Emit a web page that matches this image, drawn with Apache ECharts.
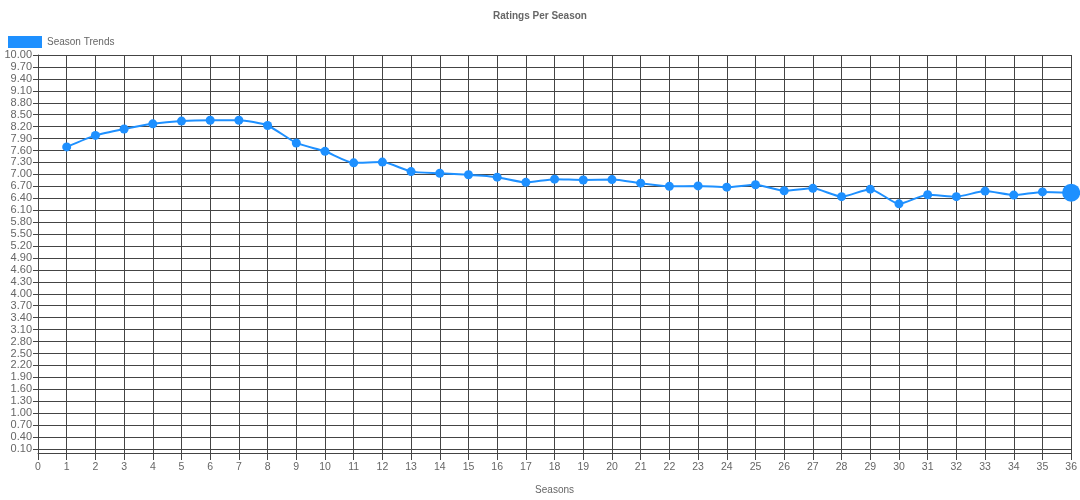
<!DOCTYPE html>
<html>
<head>
<meta charset="utf-8">
<script src="https://cdn.jsdelivr.net/npm/echarts@6/dist/echarts.min.js"></script>
<style>html,body{margin:0;padding:0;background:#fff;}#c{width:1080px;height:500px;}</style>
</head>
<body>
<div id="c"></div>
<script>
const seasons = [1,2,3,4,5,6,7,8,9,10,11,12,13,14,15,16,17,18,19,20,21,22,23,24,25,26,27,28,29,30,31,32,33,34,35,36];
const ratings = [7.69,7.98,8.14,8.27,8.34,8.36,8.36,8.23,7.79,7.58,7.29,7.31,7.07,7.03,6.99,6.93,6.80,6.88,6.86,6.87,6.78,6.70,6.71,6.68,6.74,6.59,6.65,6.44,6.63,6.26,6.49,6.44,6.58,6.48,6.56,6.54];
const yTicks = [];
for (let k = 0; k <= 33; k++) yTicks.push(+(0.1 + 0.3 * k).toFixed(2));

const font = '"Liberation Sans", Arial, Helvetica, sans-serif';
const chart = echarts.init(document.getElementById('c'));
const data = seasons.map((s, i) => {
  const item = { value: [s, ratings[i]] };
  if (i === seasons.length - 1) item.symbolSize = 18;
  return item;
});
chart.setOption({
  animation: false,
  title: {
    text: 'Ratings Per Season',
    left: 'center', top: 6,
    textStyle: { fontSize: 10, fontWeight: 'bold', color: '#666', fontFamily: font }
  },
  legend: {
    left: 3, top: 31,
    icon: 'rect', itemWidth: 34, itemHeight: 12,
    textStyle: { fontSize: 10, color: '#666', fontFamily: font },
    data: ['Season Trends']
  },
  grid: { left: 38, right: 8, top: 55, bottom: 44, containLabel: false },
  xAxis: {
    type: 'value', min: 0, max: 36, interval: 1,
    name: 'Seasons', nameLocation: 'middle', nameGap: 32,
    nameTextStyle: { fontSize: 10, color: '#666', fontFamily: font },
    axisLine: { show: true, lineStyle: { color: '#444', width: 1 } },
    axisTick: { show: true, length: 7, lineStyle: { color: '#444' } },
    axisLabel: { color: '#666', fontSize: 10.5, margin: 9, fontFamily: font },
    splitLine: { show: true, lineStyle: { color: '#444', width: 1 } }
  },
  yAxis: {
    type: 'value', min: 0, max: 10,
    axisLine: { show: true, lineStyle: { color: '#444', width: 1 } },
    axisTick: { show: true, length: 5, customValues: yTicks, lineStyle: { color: '#444' } },
    axisLabel: { color: '#666', fontSize: 11, margin: 6, fontFamily: font, customValues: yTicks,
      formatter: v => v.toFixed(2) },
    splitLine: { show: true, lineStyle: { color: '#444', width: 1 } }
  },
  series: [{
    name: 'Season Trends',
    type: 'line',
    data: data,
    smooth: 0.2,
    symbol: 'circle',
    symbolSize: 9,
    itemStyle: { color: '#1e90ff' },
    lineStyle: { color: '#1e90ff', width: 2 }
  }]
});
</script>
</body>
</html>
